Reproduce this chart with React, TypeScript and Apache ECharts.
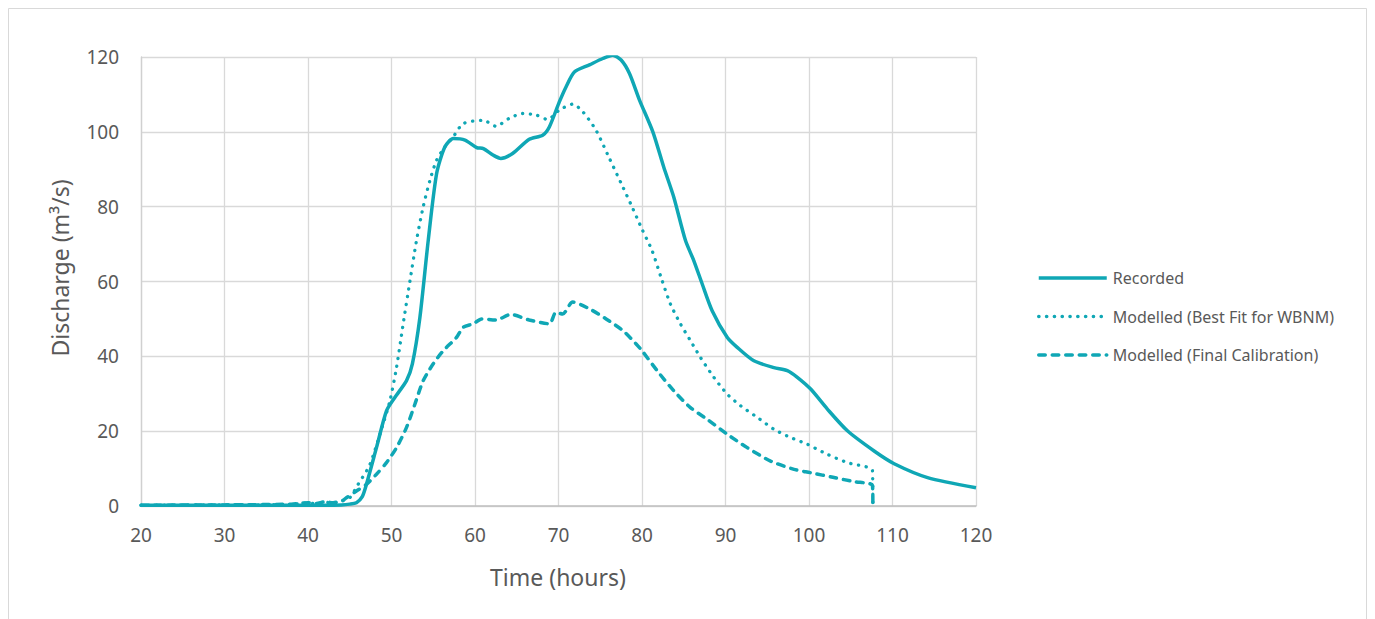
import React, { useEffect, useRef } from "react";
import * as echarts from "echarts";

const recordedTime = [20, 30, 40, 44, 45, 45.8, 46.5, 47, 48.2, 49.4, 50.4, 51.8, 52.5, 53.4, 54.4, 55.4, 56.4, 57.4, 58.8, 60.2, 61, 62.2, 63.1, 64.5, 66.5, 68.1, 68.9, 70.1, 70.9, 71.9, 73.7, 75.3, 76.5, 77.5, 78.5, 79.7, 81.3, 82.6, 83.8, 85.2, 86.2, 87.2, 88.4, 90.2, 91.4, 93.4, 95.8, 97.4, 98.6, 100.2, 102.2, 104.6, 107.8, 110.2, 114.2, 120];
const recordedFlow = [0.2, 0.2, 0.2, 0.3, 0.5, 0.9, 2.5, 5.8, 15.6, 25.4, 29, 33.5, 38, 50.4, 71, 88.8, 96, 98.2, 97.8, 95.8, 95.5, 93.75, 92.9, 94.2, 98, 99.1, 101.3, 108, 112, 116, 117.9, 119.6, 120.5, 119.2, 115.6, 108.5, 100, 90.6, 82.6, 71, 65.6, 59.4, 52.2, 45.1, 42.4, 38.8, 37, 36.2, 34.4, 31.25, 25.9, 20.1, 14.7, 11.3, 7.6, 4.9];

const bestFitTime = [20, 30, 38, 40, 41, 42, 43, 44, 45, 46, 47.4, 49, 49.8, 50.6, 51.4, 52.2, 53, 53.8, 54.6, 55.4, 56.4, 57.4, 58.6, 61, 62.5, 64.1, 65.7, 67.3, 68.7, 70.1, 71.7, 72.9, 74.5, 76.1, 77.7, 78.8, 80, 81.2, 82.4, 83.4, 84.6, 85.8, 87, 88.6, 90.2, 91.8, 93.8, 95.8, 97.8, 99.8, 102.2, 104.6, 107.6, 107.65];
const bestFitFlow = [0.2, 0.3, 0.4, 0.8, 0.6, 1.0, 0.8, 1.3, 2.2, 5.8, 11, 22, 28, 37, 48.7, 60, 71, 80, 87, 92.4, 96, 98.7, 102.2, 103.1, 101.5, 103.6, 104.9, 104.5, 103.3, 105.8, 107.4, 105.4, 100.4, 92.9, 85.3, 80, 74, 68.3, 60.3, 54, 48.7, 44.2, 39.7, 34.4, 29.9, 26.8, 23.7, 20.5, 18.3, 16.5, 13.8, 11.6, 9.4, 0];

const finalTime = [20, 30, 38, 40, 41, 42, 43, 44, 44.6, 45.8, 47, 48.2, 49.4, 50.6, 51.8, 52.8, 53.8, 55, 56.2, 57.8, 58.6, 59.8, 60.8, 62.5, 64.3, 66.5, 68.9, 69.7, 70.5, 71.7, 73.7, 75.7, 77.7, 79.3, 80, 81.8, 83.8, 85.8, 87.8, 90.2, 92.6, 95.4, 98.2, 100.2, 103, 105.4, 107.6, 107.65];
const finalFlow = [0.2, 0.3, 0.5, 0.9, 0.7, 1.1, 0.9, 1.3, 2.2, 4, 5.8, 8.5, 11.6, 15.6, 21, 27.2, 33.5, 38, 41.5, 45.1, 47.8, 48.7, 50, 49.7, 51.2, 49.7, 48.7, 51.8, 51.3, 54.5, 52.7, 50, 46.9, 43.3, 41.5, 36.2, 30.8, 26.3, 23.2, 19.2, 15.6, 12, 9.8, 8.9, 7.6, 6.5, 5.5, 0];

const seriesNames = ["Recorded", "Modelled (Best Fit for WBNM)", "Modelled (Final Calibration)"];
const xTitle = "Time (hours)";
const yTitle = "Discharge (m³/s)";

const COLOR = "#0FA7B5";
const FONT = "'Noto Sans', 'Open Sans', sans-serif";
const pairs = (t: number[], v: number[]) => t.map((x, i) => [x, v[i]]);

export default function App() {
  const ref = useRef<HTMLDivElement>(null);
  useEffect(() => {
    const chart = echarts.init(ref.current!, null, { renderer: "svg" });
    chart.setOption({
      animation: false,
      backgroundColor: "#fff",
      grid: { left: 141, right: 399, top: 57, bottom: 113 },
      xAxis: {
        type: "value",
        min: 20,
        max: 120,
        interval: 10,
        axisLine: { show: true, lineStyle: { color: "#BFBFBF", width: 1.5 } },
        axisTick: { show: false },
        axisLabel: { color: "#595959", fontSize: 19, fontFamily: FONT, margin: 19 },
        splitLine: { show: true, lineStyle: { color: "#D9D9D9", width: 1.3 } },
      },
      yAxis: {
        type: "value",
        min: 0,
        max: 120,
        interval: 20,
        axisLine: { show: true, lineStyle: { color: "#D0D0D0", width: 1.3 } },
        axisTick: { show: false },
        axisLabel: { color: "#595959", fontSize: 19, fontFamily: FONT, margin: 22 },
        splitLine: { show: true, lineStyle: { color: "#D9D9D9", width: 1.3 } },
      },
      legend: {
        orient: "vertical",
        left: 1037,
        top: 270,
        padding: 0,
        itemWidth: 68,
        itemHeight: 14,
        itemGap: 22.5,
        itemStyle: { opacity: 0 },
        lineStyle: { width: 3.5 },
        textStyle: { color: "#595959", fontSize: 16, fontFamily: FONT, padding: [0, 0, 0, 1] },
        data: seriesNames,
      },
      series: [
        {
          name: seriesNames[0],
          type: "line",
          data: pairs(recordedTime, recordedFlow),
          showSymbol: false,
          symbol: "none",
          smooth: 0.25,
          lineStyle: { color: COLOR, width: 3.5 },
          itemStyle: { color: COLOR },
          z: 3,
        },
        {
          name: seriesNames[1],
          type: "line",
          data: pairs(bestFitTime, bestFitFlow),
          showSymbol: false,
          symbol: "none",
          smooth: 0.25,
          lineStyle: { color: COLOR, width: 3.3, type: [0.2, 7.6], cap: "round" },
          itemStyle: { color: COLOR },
          z: 2,
        },
        {
          name: seriesNames[2],
          type: "line",
          data: pairs(finalTime, finalFlow),
          showSymbol: false,
          symbol: "none",
          smooth: 0.25,
          lineStyle: { color: COLOR, width: 3.5, type: [6.5, 7], cap: "round" },
          itemStyle: { color: COLOR },
          z: 2,
        },
      ],
      graphic: [
        {
          type: "rect",
          shape: { x: 8.5, y: 8.5, width: 1358, height: 640 },
          style: { fill: "none", stroke: "#D9D9D9", lineWidth: 1 },
          silent: true,
          z: -10,
        },
        {
          type: "text",
          x: 558,
          y: 577,
          style: { text: xTitle, fill: "#595959", fontSize: 23, fontFamily: FONT, align: "center", verticalAlign: "middle" },
        },
        {
          type: "text",
          x: 60,
          y: 268,
          rotation: Math.PI / 2,
          style: { text: yTitle, fill: "#595959", fontSize: 23, fontFamily: FONT, align: "center", verticalAlign: "middle" },
        },
      ],
    });
    return () => chart.dispose();
  }, []);
  return <div ref={ref} style={{ position: "absolute", left: 0, top: 0, width: 1375, height: 619 }} />;
}
